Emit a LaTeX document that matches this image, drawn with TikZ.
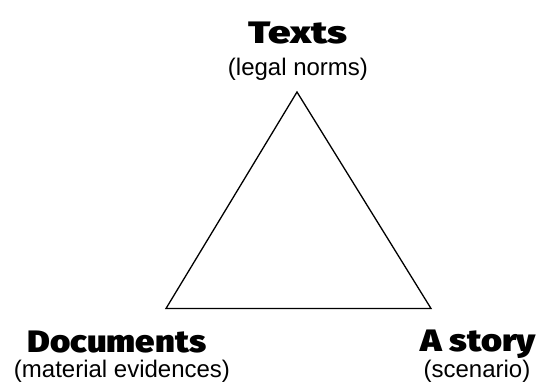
\documentclass[tikz,border=0pt]{standalone}
\usepackage{fontspec}
\setmainfont{Liberation Sans}
\newfontfamily\heavy{Fira Sans Black}
\begin{document}
\begin{tikzpicture}[x=1pt,y=-1pt,
  title/.style={inner sep=0pt,anchor=base,transform shape,font=\heavy\fontsize{31}{36}\selectfont},
  sub/.style={inner sep=0pt,anchor=base,font=\fontsize{24}{28}\selectfont}]
\useasboundingbox[fill=white] (0,0) rectangle (541,388);
\coordinate (top) at (297,92);
\coordinate (bl) at (166,308.5);
\coordinate (br) at (431,308.5);
\draw[line width=1.3pt,line join=miter] (top) -- (bl) -- (br) -- cycle;
\node[title,xscale=1.3] (texts) at (298,43) {Texts};
\node[sub] (textssub) at (298,75) {(legal norms)};
\node[title,xscale=1.12] (docs) at (117,352) {Documents};
\node[title,xscale=1.16] (story) at (478,351) {A story};
\node[sub] (docssub) at (122,377) {(material evidences)};
\node[sub] (storysub) at (477,377) {(scenario)};
\end{tikzpicture}
\end{document}
